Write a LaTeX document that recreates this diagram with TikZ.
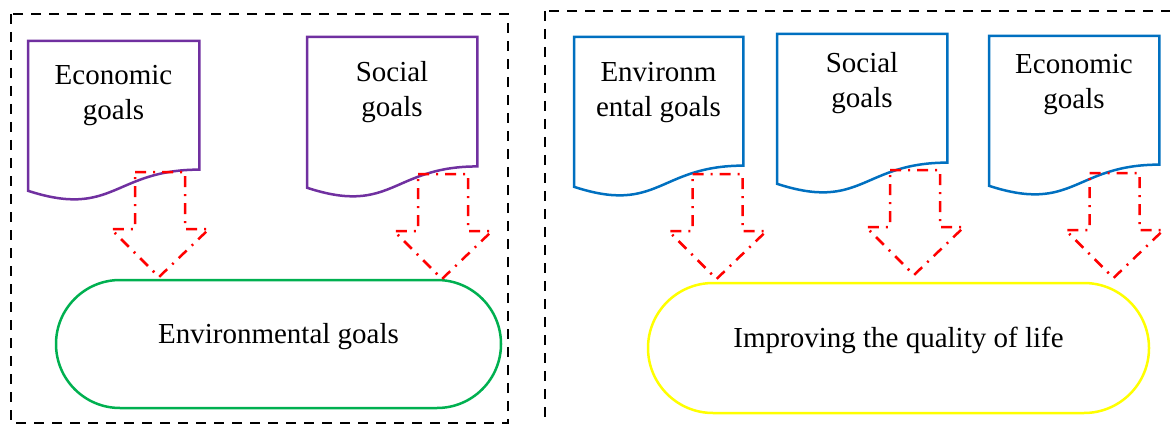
\documentclass[tikz,border=0pt]{standalone}
\usepackage{fontspec}
\setmainfont{Liberation Serif}
\usetikzlibrary{calc}
\definecolor{docpurple}{HTML}{7030A0}
\definecolor{docblue}{HTML}{0070C0}
\definecolor{ovalgreen}{HTML}{00B050}
\definecolor{ovalyellow}{HTML}{FFFF00}
\tikzset{
  docframe/.style={draw=none, inner sep=0pt, anchor=north west},
  docline/.style={line width=2.5pt, line join=miter, fill=white},
  doctext/.style={font=\fontsize{29}{35}\selectfont, align=center, inner sep=0pt, anchor=base},
  stadium/.style={line width=2.5pt, fill=white, font=\fontsize{29}{35}\selectfont, text depth=22pt, inner sep=0pt},
  groupbox/.style={line width=2.5pt, dash pattern=on 10pt off 8pt},
  blockarrowline/.style={red, line width=2.5pt, dash pattern=on 11pt off 7pt on 2pt off 7pt}
}
\newcommand\docoutline[2]{%
  \draw[docline,draw=#2] (#1.north west) -- (#1.north east)
    -- ($(#1.north east)!0.80194!(#1.south east)$)
    .. controls ($(#1.north)!0.80194!(#1.south)$) and ($(#1.north)!1.1075!(#1.south)$)
    .. ($(#1.north west)!0.93389!(#1.south west)$) -- cycle;}
\newcommand\blockarrow[2]{%
  \draw[blockarrowline] (#1-25,#2) -- (#1+25,#2) -- (#1+25,#2+57) -- (#1+49,#2+57)
    -- (#1-1,#2+105) -- (#1-49,#2+57) -- (#1-25,#2+57) -- cycle;}
\begin{document}
\begin{tikzpicture}[x=1pt,y=-1pt]
\useasboundingbox (0,0) rectangle (1170,425);
% group boxes
\draw[groupbox] (11,14) rectangle (508,423);
\draw[groupbox] (545,11) rectangle (1185,440);
% documents
\node[docframe, minimum width=171, minimum height=160] (d1) at (28,41) {};
\node[docframe, minimum width=170, minimum height=161] (d2) at (307,37) {};
\node[docframe, minimum width=169, minimum height=160] (dA) at (574,37) {};
\node[docframe, minimum width=170, minimum height=160] (dB) at (777,34) {};
\node[docframe, minimum width=170, minimum height=160] (dC) at (989,36) {};
\docoutline{d1}{docpurple}
\docoutline{d2}{docpurple}
\docoutline{dA}{docblue}
\docoutline{dB}{docblue}
\docoutline{dC}{docblue}
\node[doctext] (t1) at (113.5,120) {Economic\\goals};
\node[doctext] (t2) at (392,117) {Social\\goals};
\node[doctext] (tA) at (658.5,117) {Environm\\ental goals};
\node[doctext] (tB) at (862,108) {Social\\goals};
\node[doctext] (tC) at (1074,109) {Economic\\goals};
% goal ovals
\node[stadium, draw=ovalgreen, rounded corners=64, minimum width=445, minimum height=128] (e1) at (278.5,344) {Environmental goals};
\node[stadium, draw=ovalyellow, rounded corners=65, minimum width=501, minimum height=130] (e2) at (898.5,348) {Improving the quality of life};
% block arrows
\blockarrow{160}{172}
\blockarrow{443}{174}
\blockarrow{717.5}{174}
\blockarrow{915}{170}
\blockarrow{1114.5}{173}
\end{tikzpicture}
\end{document}
